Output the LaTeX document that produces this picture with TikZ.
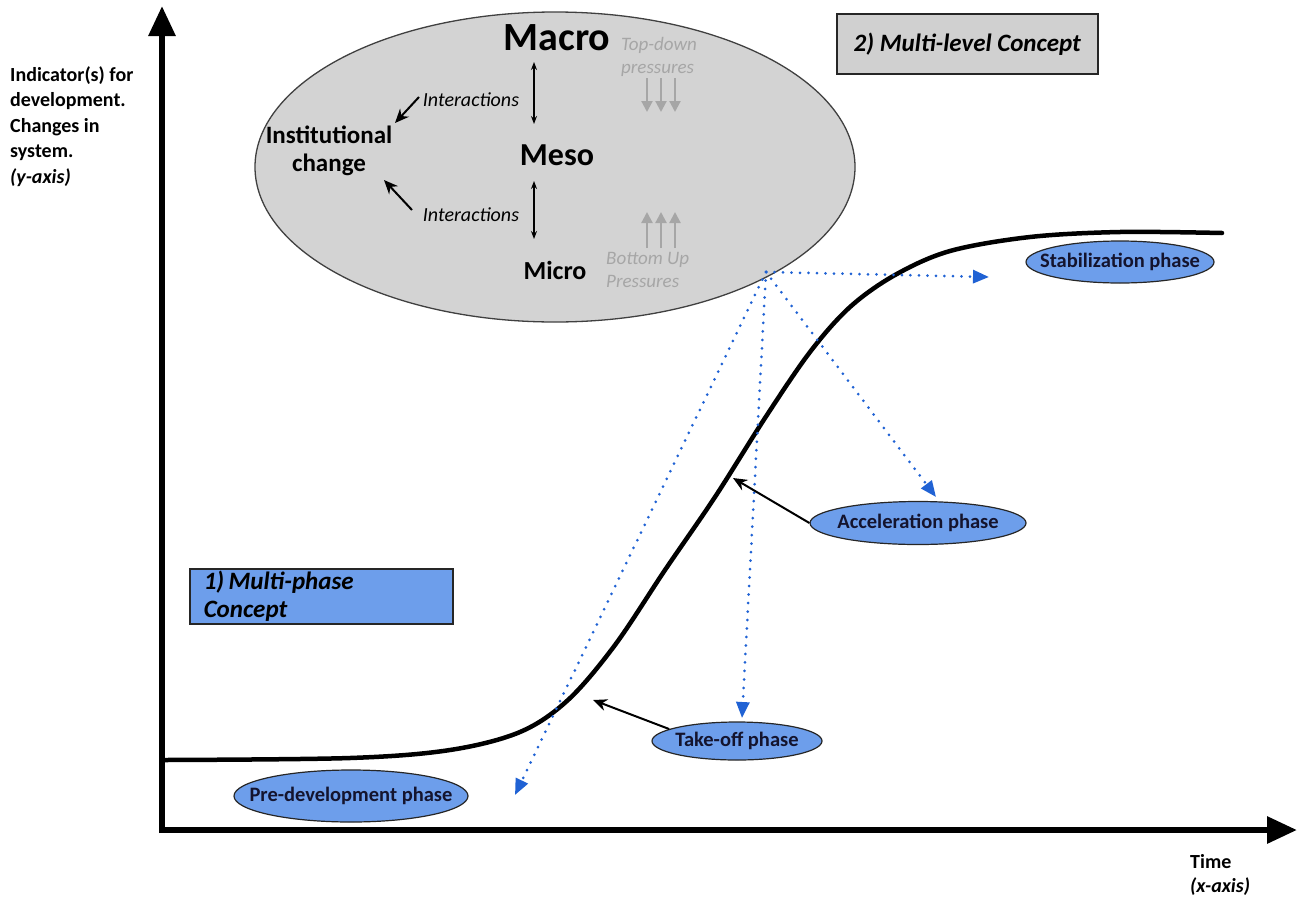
\documentclass[tikz,border=0pt]{standalone}
\usepackage{fontspec}
\setmainfont{Carlito}
\usetikzlibrary{shapes.geometric,arrows.meta}
\definecolor{phaseblue}{HTML}{6D9EEB}
\definecolor{ellgrey}{HTML}{D3D3D3}
\definecolor{boxgrey}{HTML}{D0D0D0}
\definecolor{presgrey}{HTML}{A6A6A6}
\definecolor{dotblue}{HTML}{2062D4}
\definecolor{phasetxt}{HTML}{14142E}
\newcommand{\fs}[2]{\fontsize{#1}{#2}\selectfont}
\begin{document}
\begin{tikzpicture}[x=1pt,y=-1pt,
  axisline/.style={line width=6pt,-{Triangle[length=30pt,width=26pt]}},
  phase/.style={ellipse,draw=black!85,line width=1.2pt,fill=phaseblue,inner sep=0pt},
  phasetext/.style={font=\bfseries\fs{20.5}{25},inner sep=0pt,text=phasetxt},
  greytxt/.style={text=presgrey,font=\itshape\fs{19}{23.5},align=left,anchor=west,inner sep=0pt},
  dotarrow/.style={dotblue,line width=3pt,line cap=round,dash pattern=on 0pt off 8.5pt,-{Triangle[length=16pt,width=13pt]}},
  blackarrow/.style={black,line width=2pt,-{Stealth[length=14pt,width=12pt]}},
  thinarrow/.style={black,line width=1.2pt,{Stealth[length=8pt,width=6pt]}-{Stealth[length=8pt,width=6pt]}},
  presarrow/.style={presgrey,line width=2.2pt,-{Triangle[length=11pt,width=11pt]}},
  ]
\useasboundingbox (0,0) rectangle (1298,897);

% axes
\coordinate (ybot) at (162,833);
\coordinate (ytop) at (162,6);
\coordinate (xbeg) at (159,830);
\coordinate (xend) at (1297,830);
\draw[axisline] (ybot) -- (ytop);
\draw[axisline] (xbeg) -- (xend);

\node[anchor=north west,align=left,inner sep=0pt,font=\bfseries\fs{20}{25.5}] (ylab) at (10,66)
  {Indicator(s) for\\development.\\Changes in\\system.\\\textit{(y-axis)}};
\node[anchor=north west,align=left,inner sep=0pt,font=\bfseries\fs{20}{24}] (tlab) at (1190,854)
  {Time\\\textit{(x-axis)}};

% S-curve
\draw[line width=4.5pt,line join=round,line cap=round] plot[smooth,tension=0.55] coordinates {
  (165,760) (350,758) (450,750) (520,732) (568,700) (615,645) (665,570) (715,497)
  (765,418) (810,352) (850,307) (895,275) (950,251) (1030,237) (1120,232) (1222,233)};

% multi-level ellipse
\node[ellipse,draw=black!75,line width=1.3pt,fill=ellgrey,minimum width=600pt,minimum height=310pt,inner sep=0pt] (mlc) at (555,167) {};
\node[font=\bfseries\fs{40}{48}] (macro) at (557,38) {Macro};
\node[font=\bfseries\fs{32}{38}] (meso) at (557,155) {Meso};
\node[font=\bfseries\fs{26}{31}] (micro) at (555,270) {Micro};
\node[font=\bfseries\fs{25}{28},align=center,inner sep=0pt] (inst) at (329,151) {Institutional\\change};
\node[font=\itshape\fs{20}{24},inner sep=0pt] (int1) at (471,100) {Interactions};
\node[font=\itshape\fs{20}{24},inner sep=0pt] (int2) at (471,215) {Interactions};
\node[greytxt] (td) at (621,57) {Top-down\\pressures};
\node[greytxt] (bu) at (606,270) {Bottom Up\\Pressures};

\coordinate (va1) at (534,62);
\coordinate (vb1) at (534,124);
\coordinate (va2) at (534,181);
\coordinate (vb2) at (534,239);
\draw[thinarrow] (va1) -- (vb1);
\draw[thinarrow] (va2) -- (vb2);

\coordinate (ia1) at (419,97);
\coordinate (ib1) at (395,123);
\coordinate (ia2) at (412,210);
\coordinate (ib2) at (384,180);
\draw[blackarrow] (ia1) -- (ib1);
\draw[blackarrow] (ia2) -- (ib2);

\foreach \i/\x in {1/647,2/661,3/675}{
  \coordinate (pd\i) at (\x,78);
  \coordinate (qd\i) at (\x,112);
  \draw[presarrow] (pd\i) -- (qd\i);
  \coordinate (pu\i) at (\x,248);
  \coordinate (qu\i) at (\x,212);
  \draw[presarrow] (pu\i) -- (qu\i);
}

% boxes
\node[draw=black!85,line width=1.5pt,fill=boxgrey,minimum width=261pt,minimum height=60pt,inner sep=0pt,
  font=\bfseries\itshape\fs{25}{30},anchor=north west] (mlbox) at (836,13) {2) Multi-level Concept};
\node[draw=black!85,line width=1.5pt,fill=phaseblue,minimum width=263pt,minimum height=55pt,text width=235pt,
  inner xsep=14pt,inner ysep=0pt,align=left,font=\bfseries\itshape\fs{25}{28},anchor=north west] (mpbox) at (189,568)
  {1)\hspace{-4pt} Multi-phase\\Concept};

% phases
\node[phase,minimum width=188pt,minimum height=42pt] (stab) at (1120,262) {};
\node[phasetext] (stabT) at (stab) {Stabilization phase};
\node[phase,minimum width=216pt,minimum height=43pt] (acc) at (918,523) {};
\node[phasetext] (accT) at (acc) {Acceleration phase};
\node[phase,minimum width=170pt,minimum height=38pt] (take) at (737,741) {};
\node[phasetext] (takeT) at (take) {Take-off phase};
\node[phase,minimum width=234pt,minimum height=52pt] (pre) at (351,796) {};
\node[phasetext] (preT) at (pre) {Pre-development phase};

% dotted arrows
\coordinate (src) at (766,272);
\coordinate (tStab) at (989,277);
\coordinate (tAcc) at (936,497);
\coordinate (tTake) at (742,718);
\coordinate (tPre) at (515,795);
\draw[dotarrow] (src) -- (tStab);
\draw[dotarrow] (src) -- (tAcc);
\draw[dotarrow] (src) -- (tTake);
\draw[dotarrow] (src) -- (tPre);

% black arrows to curve
\coordinate (cAcc) at (733,478);
\coordinate (cTake) at (593,700);
\draw[blackarrow] (acc.west) -- (cAcc);
\draw[blackarrow] (take.170) -- (cTake);
\end{tikzpicture}
\end{document}
